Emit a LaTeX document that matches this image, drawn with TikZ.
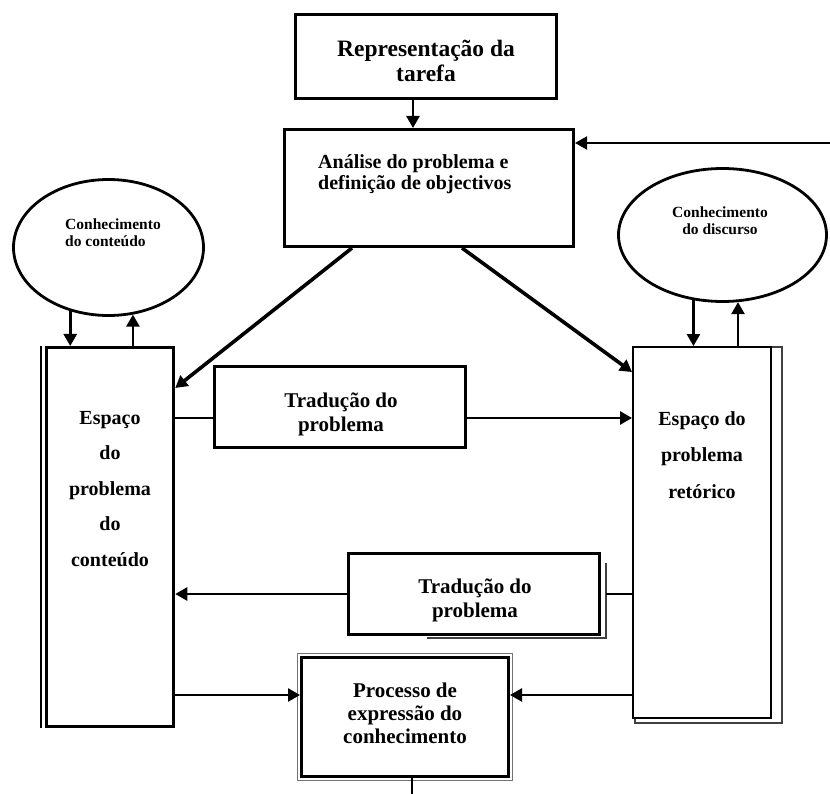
\documentclass[tikz,border=0pt]{standalone}
\usepackage{fontspec}
\setmainfont{Liberation Serif}
\usetikzlibrary{arrows.meta,shapes.geometric}
\begin{document}
\begin{tikzpicture}[x=1pt,y=1pt,
  box/.style={draw, line width=3pt, inner sep=0pt, fill=white},
  arr/.style={line width=2.6pt, -{Triangle[length=12pt,width=13pt]}},
  darr/.style={line width=3.6pt, -{Triangle[length=12pt,width=13pt]}},
  plain/.style={line width=2.6pt},
  txt/.style={inner sep=0pt, align=center},
  elli/.style={draw, ellipse, line width=2.8pt, inner sep=0pt},
  shadowline/.style={draw=black!75, line width=2pt}
]
\useasboundingbox (0,0) rectangle (830,-794);

% boxes
\node[box, minimum width=261pt, minimum height=84.5pt] (rep) at (426,-56.5) {};
\node[box, minimum width=289pt, minimum height=117pt] (ana) at (429,-188) {};
\node[box, minimum width=127.5pt, minimum height=379pt] (leftbox) at (110,-537) {};
\draw[line width=1.6pt] ([xshift=-3.5pt]leftbox.north west) -- ([xshift=-3.5pt]leftbox.south west);
\node[draw=black!75, line width=2pt, fill=white, inner sep=0pt, minimum width=147pt, minimum height=376pt] (rshadow) at (708.5,-535) {};
\node[box, line width=2.4pt, minimum width=137.5pt, minimum height=370.5pt] (rightbox) at (702,-532.5) {};
\node[box, minimum width=251pt, minimum height=81pt] (trad1) at (340,-407) {};
\node[box, minimum width=251pt, minimum height=81pt] (trad2) at (474,-594) {};
\draw[shadowline] ([xshift=80pt,yshift=-2pt]trad2.south west) -| ([xshift=5pt,yshift=-11pt]trad2.north east);
\node[box, minimum width=207pt, minimum height=119pt] (proc) at (405,-717) {};
\draw[draw=black!55, line width=0.9pt] ([shift={(-2.5pt,2.5pt)}]proc.north west) rectangle ([shift={(2.5pt,-2.5pt)}]proc.south east);

% ellipses
\node[elli, minimum width=190pt, minimum height=136pt] (el1) at (108.5,-247.5) {};
\node[elli, minimum width=208pt, minimum height=133pt] (el2) at (722.5,-235) {};

% texts
\node[txt, font=\fontsize{23.5}{25}\selectfont\bfseries] (reptxt) at (426,-61) {Representação da\\tarefa};
\node[txt, anchor=west, align=left, font=\fontsize{20}{20.5}\selectfont\bfseries] (anatxt) at (318,-174) {Análise do problema e\\definição de objectivos};
\node[txt, anchor=west, align=left, font=\fontsize{15.5}{17}\selectfont\bfseries] (el1txt) at (65,-233) {Conhecimento\\do conteúdo};
\node[txt, font=\fontsize{15.5}{17}\selectfont\bfseries] (el2txt) at (720,-221) {Conhecimento\\do discurso};
\node[txt, font=\fontsize{20}{35.5}\selectfont\bfseries] (lefttxt) at (110,-489) {Espaço\\do\\problema\\do\\conteúdo};
\node[txt, font=\fontsize{20}{36.5}\selectfont\bfseries] (righttxt) at (702,-455) {Espaço do\\problema\\retórico};
\node[txt, font=\fontsize{21}{24}\selectfont\bfseries] (trad1txt) at (341,-414) {Tradução do\\problema};
\node[txt, font=\fontsize{21}{24}\selectfont\bfseries] (trad2txt) at (475,-600) {Tradução do\\problema};
\node[txt, font=\fontsize{21}{23}\selectfont\bfseries] (proctxt) at (405,-713) {Processo de\\expressão do\\conhecimento};

% helper coordinates
\coordinate (ax) at (413,0);
\coordinate (fb) at (830,-143);
\coordinate (d1) at (352,0);
\coordinate (d2) at (462,0);
\coordinate (y418) at (0,-418);
\coordinate (y695) at (0,-695);
\coordinate (bt) at (412,-794);

% connectors
\draw[arr] (rep.south -| ax) -- (ana.north -| ax);
\draw[arr, line width=2pt] (fb) -- (fb -| ana.east);
\draw[darr] (ana.south -| d1) -- ([yshift=-42pt]leftbox.north east);
\draw[darr] (ana.south -| d2) -- ([yshift=-26pt]rightbox.north west);
\draw[plain] (leftbox.east |- y418) -- (trad1.west |- y418);
\draw[arr] (trad1.east |- y418) -- (rightbox.west |- y418);
\draw[arr] (trad2.west) -- (trad2.west -| leftbox.east);
\draw[plain] (rightbox.west |- trad2.east) -- ([xshift=5pt]trad2.east);
\draw[arr] (leftbox.east |- y695) -- (proc.west |- y695);
\draw[arr] (rightbox.west |- y695) -- (proc.east |- y695);
\draw[line width=1.6pt] (proc.south -| bt) -- (bt);

\draw[arr] (el1.-121) -- (el1.-121 |- leftbox.north);
\draw[arr] (el1.-70 |- leftbox.north) -- (el1.-70);
\draw[arr] (el2.-114) -- (el2.-114 |- rightbox.north);
\draw[arr] (el2.-77 |- rightbox.north) -- (el2.-77);
\end{tikzpicture}
\end{document}
